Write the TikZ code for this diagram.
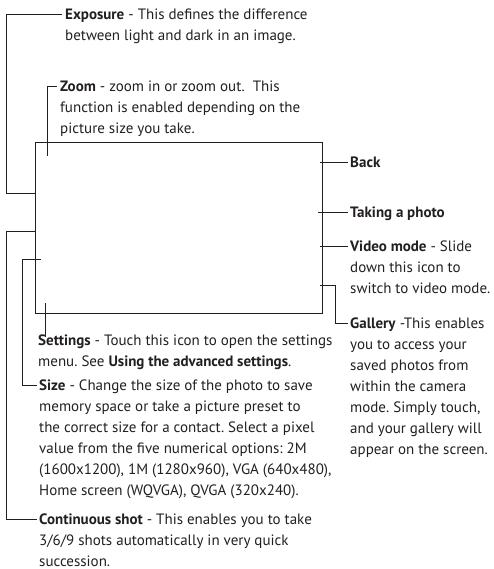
\documentclass[tikz,border=0pt]{standalone}
\usepackage{fontspec}
\setmainfont{PT Sans}
\usetikzlibrary{positioning}
\definecolor{tinta}{HTML}{231F20}
\tikzset{
  etiqueta/.style={anchor=north west,inner sep=0pt,align=left,text=tinta,
    font=\fontsize{15}{21}\selectfont\frenchspacing},
  guia/.style={draw=tinta,line width=0.8pt},
}

\begin{document}
\begin{tikzpicture}[x=1pt,y=-1pt]
  \useasboundingbox (0,0) rectangle (494,569);
  % pantalla
  \node[guia,anchor=north west,inner sep=0pt,minimum width=287pt,minimum height=171pt] (pantalla) at (35,142) {};
  % puntos en la pantalla
  \coordinate (p-exposure) at (35,193);
  \coordinate (p-zoom) at (47,156);
  \coordinate (p-back) at (320,162);
  \coordinate (p-photo) at (318,212);
  \coordinate (p-video) at (320,246);
  \coordinate (p-gallery) at (320,285);
  \coordinate (p-continuous) at (35,231);
  \coordinate (p-size) at (41,259);
  \coordinate (p-settings) at (45,303);
  % etiquetas
  \node[etiqueta] (exposure) at (65,8.2) {\textbf{Exposure} - This defines the difference\\between light and dark in an image.};
  \node[etiqueta] (zoom) at (60,80.2) {\textbf{Zoom} - zoom in or zoom out.\ \ This\\function is enabled depending on the\\picture size you take.};
  \node[etiqueta] (back) at (350,156.2) {\textbf{Back}};
  \node[etiqueta] (photo) at (350,206.2) {\textbf{Taking a photo}};
  \node[etiqueta] (video) at (350,240.2) {\textbf{Video mode} - Slide\\down this icon to\\switch to video mode.};
  \node[etiqueta] (gallery) at (350,317.2) {\textbf{Gallery} -This enables\\you to access your\\saved photos from\\within the camera\\mode. Simply touch,\\and your gallery will\\appear on the screen.};
  \node[etiqueta] (settings) at (38,334.2) {\textbf{Settings} - Touch this icon to open the settings\\menu. See \textbf{Using the advanced settings}.};
  \node[etiqueta] (size) at (39,379.2) {\textbf{Size} - Change the size of the photo to save\\memory space or take a picture preset to\\the correct size for a contact. Select a pixel\\value from the five numerical options: 2M\\(1600x1200), 1M (1280x960), VGA (640x480),\\Home screen (WQVGA), QVGA (320x240).};
  \node[etiqueta] (continuous) at (39,513.2) {\textbf{Continuous shot} - This enables you to take\\3/6/9 shots automatically in very quick\\succession.};
  % guias
  \draw[guia] (p-exposure) -- (6,193) |- ([shift={(-3pt,-5.8pt)}]exposure.north west);
  \draw[guia] (p-zoom) |- ([shift={(-3pt,-5.8pt)}]zoom.north west);
  \draw[guia] (p-back) -- ([shift={(-2pt,-5.8pt)}]back.north west);
  \draw[guia] (p-photo) -- ([shift={(-2pt,-5.8pt)}]photo.north west);
  \draw[guia] (p-video) -- ([shift={(-2pt,-5.8pt)}]video.north west);
  \draw[guia] (p-gallery) -- (335,285) |- ([shift={(-2pt,-5.8pt)}]gallery.north west);
  \draw[guia] (p-continuous) -- (6,231) |- ([shift={(-2pt,-5.8pt)}]continuous.north west);
  \draw[guia] (p-size) -- (22,259) |- ([shift={(-2pt,-5.8pt)}]size.north west);
  \draw[guia] (p-settings) -- ([shift={(7pt,-3pt)}]settings.north west);
\end{tikzpicture}
\end{document}
